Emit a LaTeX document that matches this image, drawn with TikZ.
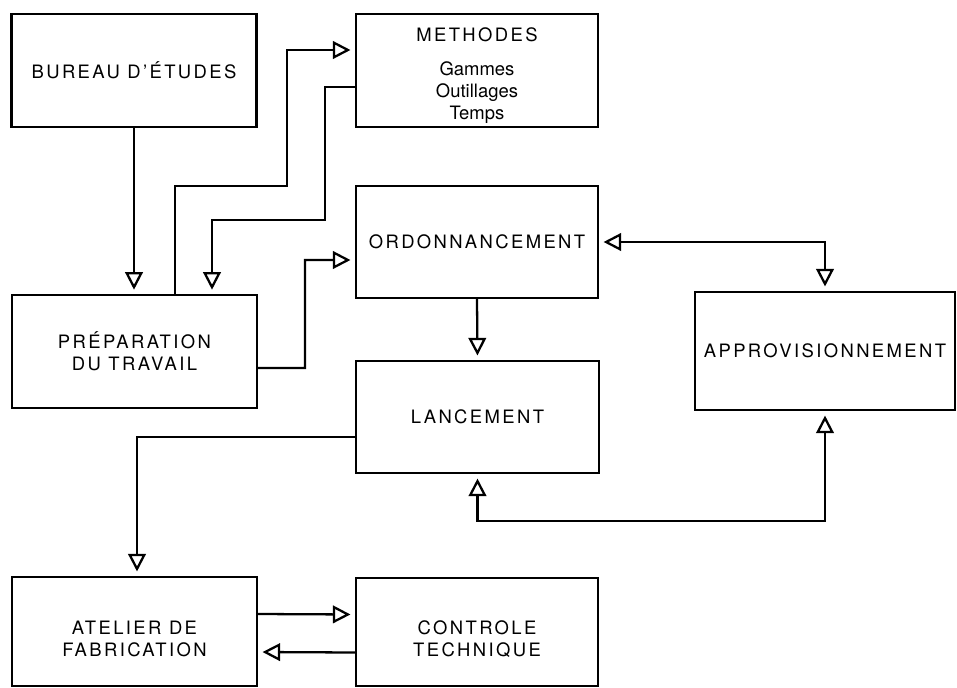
\documentclass[tikz,border=0pt]{standalone}
\usepackage{fontspec}
\setmainfont{TeX Gyre Heros}[LetterSpace=13]
\newfontfamily\sousfonte{TeX Gyre Heros}
\usepackage{tikz}
\usetikzlibrary{arrows,arrows.meta}

\tikzset{
  bloc/.style={draw, line width=1.3pt, minimum width=4.9cm, minimum height=2.25cm,
    align=center, inner sep=0pt, font=\fontsize{10.5}{12.5}\selectfont},
  fleche/.style={->, line width=1.3pt, shorten >=2.5pt},
}

\begin{document}
\begin{tikzpicture}[scale=1, >={Triangle[open,length=10pt,width=10pt]}]
\useasboundingbox (0,0) rectangle (19.14,-13.74);

% les blocs
\node [bloc] (bureau) at (2.68,-1.41) {BUREAU D’ÉTUDES};
\node [bloc,minimum width=4.84cm] (methodes) at (9.54,-1.41)
  {\rule{0pt}{14pt}METHODES\\[7pt]\sousfonte Gammes\\\sousfonte Outillages\\\sousfonte Temps};
\node [bloc,minimum width=4.84cm,minimum height=2.24cm] (ordo) at (9.54,-4.84) {ORDONNANCEMENT};
\node [bloc] (prep) at (2.69,-7.03) {PRÉPARATION\\DU TRAVAIL};
\node [bloc,minimum width=4.86cm,minimum height=2.24cm] (lance) at (9.55,-8.34) {LANCEMENT};
\node [bloc,minimum width=5.2cm,minimum height=2.36cm] (appro) at (16.5,-7.02) {APPROVISIONNEMENT};
\node [bloc,minimum height=2.18cm] (atelier) at (2.69,-12.63) {\rule{0pt}{16pt}ATELIER DE\\FABRICATION};
\node [bloc,minimum width=4.84cm,minimum height=2.16cm] (controle) at (9.54,-12.64) {\rule{0pt}{16pt}CONTROLE\\TECHNIQUE};

% les liaisons
\draw [fleche] (bureau.south) -- (bureau.south |- prep.north);
\draw [fleche] ([xshift=0.81cm]prep.north) |- (5.74,-3.72) |- ([yshift=0.41cm]methodes.west);
\draw [fleche] ([yshift=-0.33cm]methodes.west) -| (6.5,-4.4) -| ([xshift=1.55cm]prep.north);
\draw [fleche] ([yshift=-0.33cm]prep.east) -| (6.1,-5.2) -- ([yshift=-0.36cm]ordo.west);
\draw [fleche] (ordo.south) -- (lance.north);
\draw [fleche,<->,shorten <=2.5pt] (ordo.east) -| (appro.north);
\draw [fleche,<->,shorten <=2.5pt] (lance.south) -- ++(0,-0.94) -| (appro.south);
\draw [fleche] ([yshift=-0.4cm]lance.west) -| ([xshift=0.05cm]atelier.north);
\draw [fleche] ([yshift=0.35cm]atelier.east) -- ([yshift=0.35cm]controle.west);
\draw [fleche] ([yshift=-0.41cm]controle.west) -- ([yshift=-0.41cm]atelier.east);
\end{tikzpicture}
\end{document}
